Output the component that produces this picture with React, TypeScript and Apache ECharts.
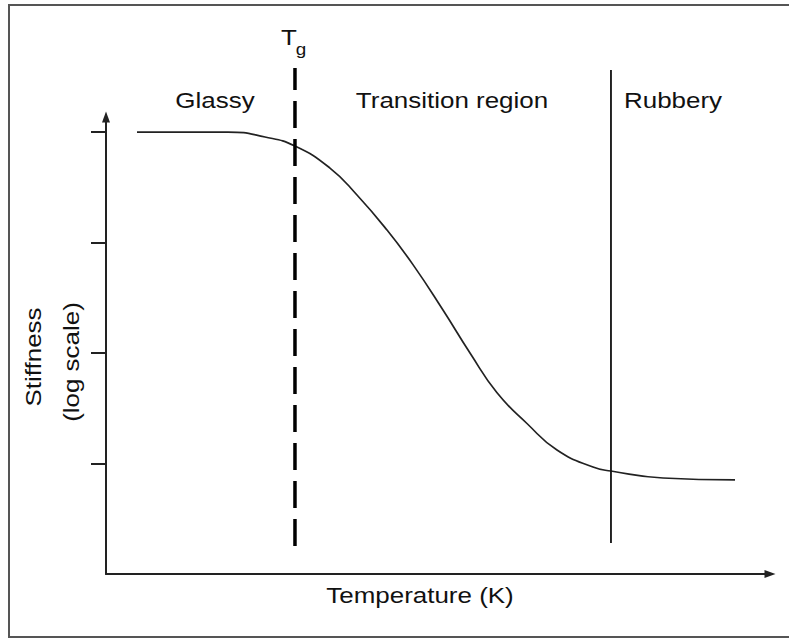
import React, { useEffect, useRef } from "react";
import * as echarts from "echarts";

// Curve: temperature (arbitrary units) vs stiffness (log units)
const temperature = [4.67, 18.37, 23.95, 28.46, 33.73, 37.8, 42.32, 46.23, 50.75, 54.82, 58.89, 63.4, 67.92, 73.34, 76.05, 83.89, 94.73];
const stiffness = [4.0, 4.0, 3.955, 3.873, 3.674, 3.43, 3.113, 2.8, 2.389, 2.0, 1.64, 1.362, 1.122, 0.968, 0.932, 0.869, 0.851];

// Region boundaries
const tgX = 28.46;
const tgSpan = [0.254, 4.579];
const rubberyX = 76.05;
const rubberySpan = [0.28, 4.561];

const yTicks = [1, 2, 3, 4];
const regionLabels = ["Glassy", "Transition region", "Rubbery"];
const xTitle = "Temperature (K)";
const yTitle = ["Stiffness", "(log scale)"];

const FONT = '"Liberation Sans", Arial, sans-serif';
const FS = 22;
const SX = 1.18;

export default function App() {
  const ref = useRef<HTMLDivElement>(null);
  useEffect(() => {
    if (!ref.current) return;
    const chart = echarts.init(ref.current, undefined, { renderer: "svg" });
    const txt = (text: string, x: number, y: number, extra: any = {}) => ({
      type: "text",
      x,
      y,
      scaleX: extra.scaleX ?? SX,
      rotation: extra.rotation ?? 0,
      style: {
        text,
        fontFamily: FONT,
        fontSize: extra.fontSize ?? FS,
        fill: "#111",
        align: "center",
        verticalAlign: "middle",
      },
      z: 10,
    });
    const axisLine = {
      show: true,
      symbol: ["none", "triangle"],
      symbolSize: [8, 11],
      lineStyle: { color: "#222", width: 2 },
    };
    chart.setOption({
      animation: false,
      backgroundColor: "#fff",
      grid: { left: 106, top: 117, right: 19, bottom: 64, containLabel: false },
      xAxis: {
        type: "value",
        min: 0,
        max: 100,
        axisLine,
        axisTick: { show: false },
        axisLabel: { show: false },
        splitLine: { show: false },
      },
      yAxis: {
        type: "value",
        min: 0,
        max: 4.136,
        axisLine,
        axisTick: {
          show: true,
          inside: false,
          length: 15,
          customValues: yTicks,
          lineStyle: { color: "#222", width: 2 },
        },
        axisLabel: { show: false, customValues: yTicks },
        splitLine: { show: false },
      },
      series: [
        {
          type: "line",
          data: temperature.map((t, i) => [t, stiffness[i]]),
          smooth: 0.5,
          showSymbol: false,
          lineStyle: { color: "#222", width: 1.7 },
        },
        {
          type: "line",
          data: [[tgX, tgSpan[0]], [tgX, tgSpan[1]]],
          showSymbol: false,
          clip: false,
          lineStyle: { color: "#000", width: 3.5, type: [27, 11] },
        },
        {
          type: "line",
          data: [[rubberyX, rubberySpan[0]], [rubberyX, rubberySpan[1]]],
          showSymbol: false,
          clip: false,
          lineStyle: { color: "#111", width: 1.8 },
        },
      ],
      graphic: [
        {
          type: "rect",
          shape: { x: 9, y: 5, width: 900, height: 632 },
          style: { fill: "none", stroke: "#555", lineWidth: 2 },
          silent: true,
        },
        txt("T", 289, 37),
        txt("g", 301, 50, { fontSize: 16 }),
        txt(regionLabels[0], 215, 100),
        txt(regionLabels[1], 452, 100),
        txt(regionLabels[2], 673, 100),
        txt(xTitle, 420, 595),
        txt(yTitle[0], 33, 357, { rotation: Math.PI / 2 }),
        txt(yTitle[1], 71, 362, { rotation: Math.PI / 2 }),
      ],
    });
    return () => chart.dispose();
  }, []);
  return (
    <div
      ref={ref}
      style={{ position: "absolute", left: 0, top: 0, width: 789, height: 638 }}
    />
  );
}
